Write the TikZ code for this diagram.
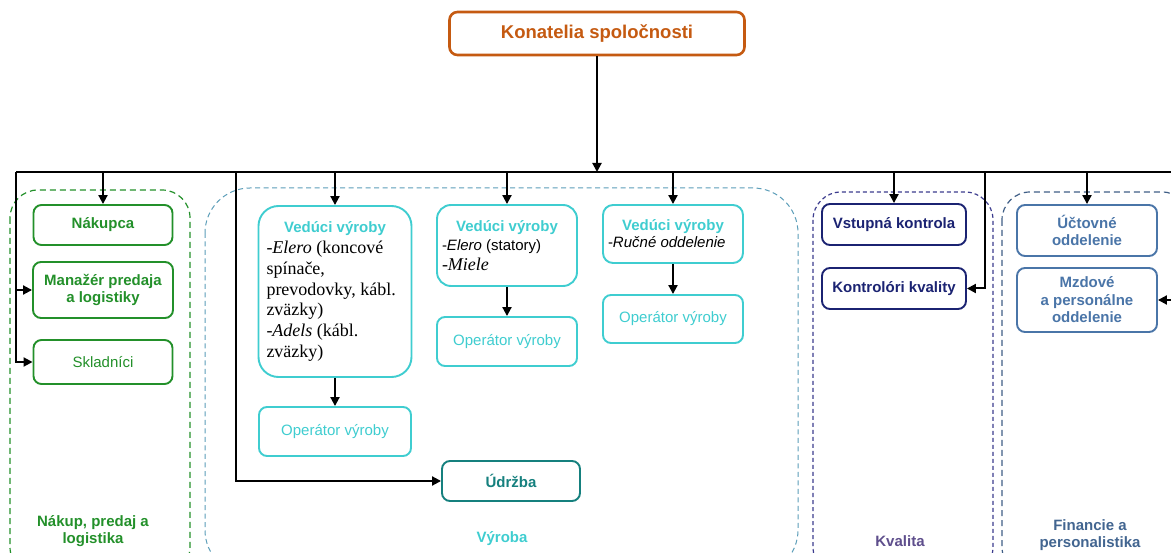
\documentclass[tikz,border=0pt]{standalone}
\usepackage{fontspec}
\setmainfont{Liberation Sans}
\newfontfamily\timesfont{Liberation Serif}
\usetikzlibrary{arrows.meta}

\definecolor{board color}{HTML}{C55A11}
\definecolor{purchase color}{HTML}{23902A}
\definecolor{production color}{HTML}{3FCDD0}
\definecolor{production frame color}{HTML}{5B9DB8}
\definecolor{maintenance color}{HTML}{15807E}
\definecolor{quality color}{HTML}{1B2372}
\definecolor{quality frame color}{HTML}{3C3C8E}
\definecolor{quality label color}{HTML}{5E4E8C}
\definecolor{finance color}{HTML}{4A75A8}
\definecolor{finance frame color}{HTML}{3F5E86}
\tikzset{
    x={1pt},
    y={-1pt},
    unit box/.style={
        draw={#1},
        text={#1},
        fill=white,
        line width={1.9pt},
        rounded corners={8pt},
        align=center,
        inner sep=2pt,
        font={\fontsize{15}{17.5}\selectfont\bfseries},
    },
    unit box/.default={black},
    plain unit/.style={
        unit box={#1},
        font={\fontsize{15}{17.5}\selectfont},
    },
    box size/.style 2 args={
        minimum width={#1},
        minimum height={#2},
    },
    leader box/.style={
        unit box={production color},
        text=black,
        align=flush left,
        text width={#1},
    },
    group frame/.style={
        draw={#1},
        line width={1.2pt},
        dash pattern=on 5pt off 3.5pt,
        rounded corners={28pt},
    },
    group label/.style={
        text={#1},
        align=center,
        font={\fontsize{15}{17.5}\selectfont\bfseries},
    },
    bus/.style={
        draw=black,
        line width={2pt},
    },
    feed/.style={
        bus,
        -{Triangle[length=9pt,width=9pt]},
    },
}
\newcommand{\leadertitle}{\makebox[\linewidth]{\rmfamily\fontsize{15}{17}\selectfont\bfseries\color{production color}Vedúci výroby}}

\begin{document}
\begin{tikzpicture}
\useasboundingbox (0,0) rectangle (1171,553);
\clip (0,0) rectangle (1171,553);
% departments
\path[group frame={purchase color}, dash pattern=on 6pt off 4pt] (10,190) rectangle (190,575);
\path[group frame={production frame color}, line width={1pt}, rounded corners={45pt}] (205,188) rectangle (798,575);
\path[group frame={quality frame color}, dash pattern=on 4pt off 3pt] (813,192) rectangle (993,575);
\path[group frame={finance frame color}, dash pattern=on 6pt off 4pt] (1002,192) rectangle (1190,575);
\node[group label={purchase color}] (purchaseLabel) at (93,531) {Nákup, predaj a\\logistika};
\node[group label={production color}] (productionLabel) at (502,539) {Výroba};
\node[group label={quality label color}] (qualityLabel) at (900,541) {Kvalita};
\node[group label={finance frame color!70!finance color}] (financeLabel) at (1090,535) {Financie a\\personalistika};
% units
\node[unit box={board color}, line width={2.6pt}, font={\fontsize{18.5}{21}\selectfont\bfseries}, box size={295}{43}] (board) at (597,33.5) {Konatelia spoločnosti};
\node[unit box={purchase color}, box size={139}{40}] (buyer) at (103,225) {Nákupca};
\node[unit box={purchase color}, box size={140}{56}] (manager) at (103,290) {Manažér predaja\\a logistiky};
\node[plain unit={purchase color}, box size={139}{44}] (storekeepers) at (103,362) {Skladníci};
\node[leader box={137pt}, inner xsep=8pt, rounded corners={20pt}, box size={153}{171}, font={\fontsize{18}{20.8}\selectfont\timesfont}] (lead1) at (335,291.5) {\leadertitle\\-\textit{Elero} (koncové\\spínače,\\prevodovky, kábl.\\zväzky)\\-\textit{Adels} (kábl.\\zväzky)};
\node[leader box={130pt}, inner xsep=5pt, rounded corners={14pt}, box size={140}{81}, font={\fontsize{15}{19.5}\selectfont}] (lead2) at (507,245.5) {\leadertitle\\-\textit{Elero} (statory)\\{\timesfont\fontsize{18}{19.5}\selectfont\itshape -Miele}};
\node[leader box={130pt}, inner xsep=5pt, rounded corners={10pt}, box size={140}{58}, font={\fontsize{15}{17}\selectfont}] (lead3) at (673,234) {\leadertitle\\-\textit{Ručné oddelenie}};
\node[plain unit={production color}, box size={152}{49}] (operator1) at (335,431.5) {Operátor výroby};
\node[plain unit={production color}, box size={140}{49}] (operator2) at (507,341.5) {Operátor výroby};
\node[plain unit={production color}, box size={140}{48}] (operator3) at (673,319) {Operátor výroby};
\node[unit box={maintenance color}, box size={138}{40}] (maintenance) at (511,481) {Údržba};
\node[unit box={quality color}, box size={144}{41}] (inspection) at (894,224.5) {Vstupná kontrola};
\node[unit box={quality color}, box size={144}{41}] (controllers) at (894,288.5) {Kontrolóri kvality};
\node[unit box={finance color}, box size={140}{51}] (accounting) at (1087,230.5) {Účtovné\\oddelenie};
\node[unit box={finance color}, box size={140}{64}] (payroll) at (1087,300) {Mzdové\\a personálne\\oddelenie};
% lines
\coordinate (busL) at (16,172);
\coordinate (busR) at (1175,172);
\coordinate (maintenanceTap) at (236,172);
\coordinate (qualityTap) at (985,172);
\coordinate (financeTap) at (1175,300);
\draw[feed] (board) -- (busL -| board);
\draw[bus] (busL) -- (busR);
\draw[feed] (busL) |- (manager);
\draw[feed] (busL) |- (storekeepers);
\draw[feed] (busL -| buyer) -- (buyer);
\draw[feed] (maintenanceTap) |- (maintenance);
\draw[feed] (busL -| lead1) -- (lead1);
\draw[feed] (busL -| lead2) -- (lead2);
\draw[feed] (busL -| lead3) -- (lead3);
\draw[feed] (lead1) -- (operator1);
\draw[feed] (lead2) -- (operator2);
\draw[feed] (lead3) -- (operator3);
\draw[feed] (busL -| inspection) -- (inspection);
\draw[feed] (qualityTap) |- (controllers);
\draw[feed] (busL -| accounting) -- (accounting);
\draw[feed] (financeTap) -- (payroll);
\end{tikzpicture}
\end{document}
